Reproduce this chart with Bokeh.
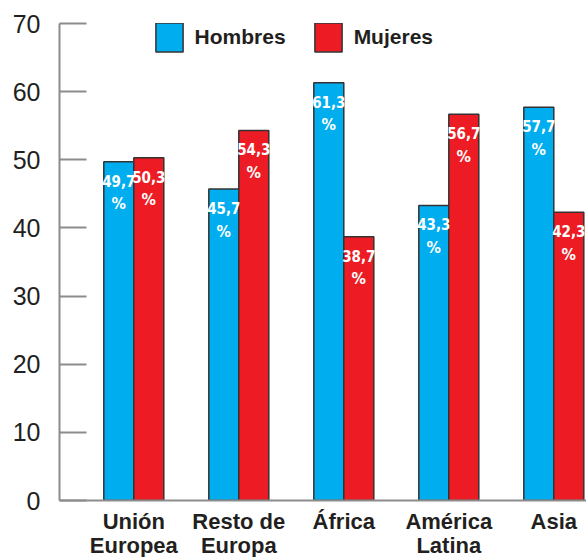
from bokeh.plotting import figure
from bokeh.models import ColumnDataSource, Legend, LegendItem, Label, FixedTicker
from bokeh.transform import dodge
from bokeh.core.properties import value
from bokeh.embed import file_html
from bokeh.resources import INLINE

# ---- data ----
categories = ["Unión\nEuropea", "Resto de\nEuropa", "África", "América\nLatina", "Asia"]
hombres = [49.7, 45.7, 61.3, 43.3, 57.7]
mujeres = [50.3, 54.3, 38.7, 56.7, 42.3]
y_ticks = [0, 10, 20, 30, 40, 50, 60, 70]
title_text = "nacimiento y sexo (Cataluña 2022)"
series_names = ["Hombres", "Mujeres"]

BLUE = "#00AEEF"
RED = "#ED1C24"
GRAY = "#8C8C8C"
TXT = "#231F20"
COND = "'DejaVu Sans Condensed', 'Liberation Sans', sans-serif"
SANS = "'Liberation Sans', Arial, sans-serif"

xs = list(range(len(categories)))
src = ColumnDataSource(dict(
    x=xs,
    hombres=hombres,
    mujeres=mujeres,
    lab_h=[f"{v:.1f}".replace(".", ",") for v in hombres],
    lab_m=[f"{v:.1f}".replace(".", ",") for v in mujeres],
    pct=["%"] * len(xs),
))

W, H = 586, 564
p = figure(width=W, height=H, output_backend="svg", toolbar_location=None,
           x_range=(-0.7076, 4.3114), y_range=(0, 70),
           min_border_left=59, min_border_right=0, min_border_top=23,
           min_border_bottom=H - 500, outline_line_color=None)
p.grid.visible = False
p.background_fill_color = "white"
p.border_fill_color = "white"

bw = 0.2857
off = bw / 2
rh = p.vbar(x=dodge("x", -off, range=p.x_range), top="hombres", width=bw, bottom=0,
            source=src, fill_color=BLUE, line_color="#333333", line_width=1.5)
rm = p.vbar(x=dodge("x", off, range=p.x_range), top="mujeres", width=bw, bottom=0,
            source=src, fill_color=RED, line_color="#333333", line_width=1.5)

for col, lab, d in (("hombres", "lab_h", -off), ("mujeres", "lab_m", off)):
    p.text(x=dodge("x", d, range=p.x_range), y=col, text=lab, source=src,
           text_align="center", text_baseline="alphabetic", y_offset=19,
           text_color="white", text_font=value(COND), text_font_style="bold",
           text_font_size="15px")
    p.text(x=dodge("x", d, range=p.x_range), y=col, text="pct", source=src,
           text_align="center", text_baseline="alphabetic", y_offset=42,
           text_color="white", text_font=value(COND), text_font_style="bold",
           text_font_size="16px")

# axes
p.yaxis.ticker = FixedTicker(ticks=y_ticks)
p.yaxis.axis_line_color = GRAY
p.yaxis.axis_line_width = 2
p.yaxis.major_tick_line_color = GRAY
p.yaxis.major_tick_line_width = 2
p.yaxis.major_tick_in = 27
p.yaxis.major_tick_out = 0
p.yaxis.minor_tick_line_color = None
p.yaxis.major_label_standoff = 19
p.yaxis.major_label_text_font = SANS
p.yaxis.major_label_text_font_size = "25px"
p.yaxis.major_label_text_color = TXT

p.xaxis.ticker = FixedTicker(ticks=xs)
p.xaxis.major_label_overrides = {i: c for i, c in enumerate(categories)}
p.xaxis.axis_line_color = GRAY
p.xaxis.axis_line_width = 2
p.xaxis.major_tick_line_color = None
p.xaxis.minor_tick_line_color = None
p.xaxis.major_label_standoff = 2
p.xaxis.major_label_text_font = SANS
p.xaxis.major_label_text_font_style = "bold"
p.xaxis.major_label_text_font_size = "22px"
p.xaxis.major_label_text_color = TXT
p.xaxis.major_label_text_line_height = 0.97

legend = Legend(items=[LegendItem(label=series_names[0], renderers=[rh]),
                       LegendItem(label=series_names[1], renderers=[rm])],
                orientation="horizontal", location=(92.6, 444.6),
                glyph_width=34, glyph_height=36, label_standoff=9, spacing=25,
                padding=0, margin=0, border_line_alpha=0, background_fill_alpha=0,
                label_text_font=SANS, label_text_font_style="bold",
                label_text_font_size="21px", label_text_color=TXT,
                label_height=36)
p.add_layout(legend, "center")

# partially visible title at the very top
p.add_layout(Label(x=333, y=H - 5, x_units="screen", y_units="screen",
                   text=title_text, text_align="center", text_baseline="alphabetic",
                   text_font=SANS, text_font_style="bold", text_font_size="26px",
                   text_color=TXT))

open("out.html", "w").write(file_html(p, INLINE))
